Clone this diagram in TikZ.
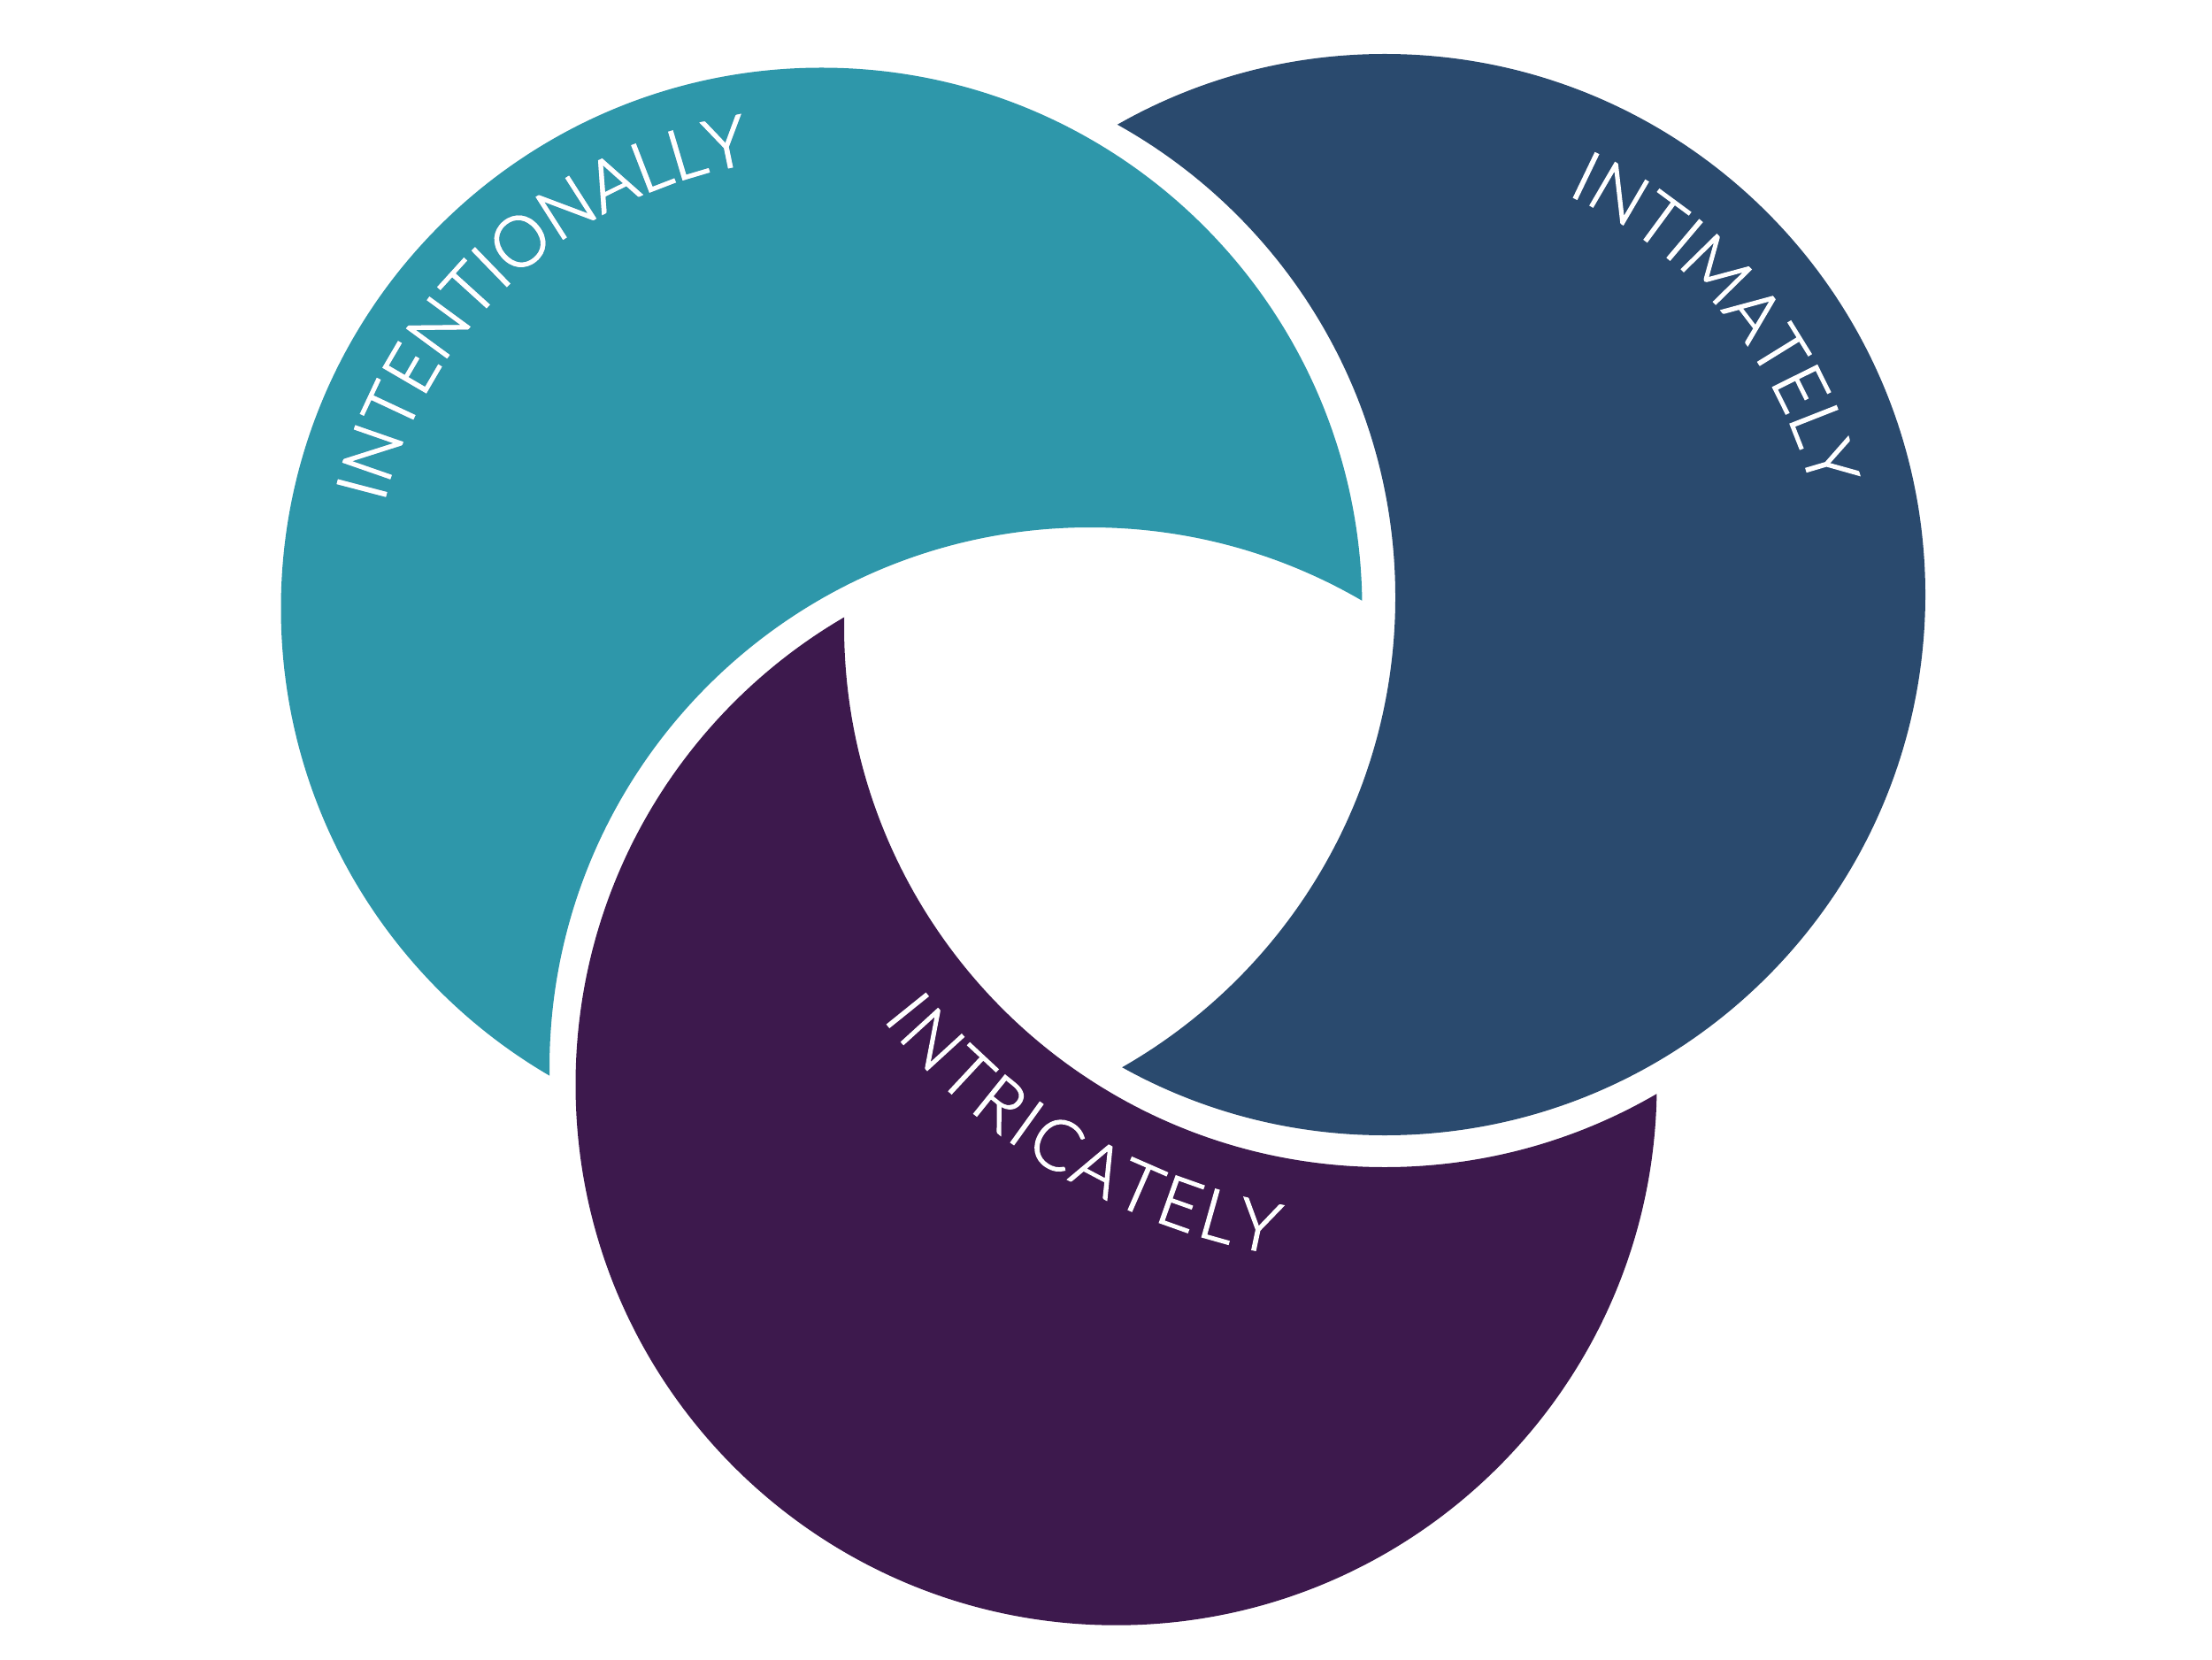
\documentclass[tikz,border=0pt]{standalone}
\usepackage{fontspec}
\newfontfamily\ringfont{Lato Light}[FakeBold=2]
\usepackage{tikz}
\usetikzlibrary{
	calc,
	decorations.text
}
\definecolor{RingTeal}{RGB}{46,151,170}
\definecolor{RingNavy}{RGB}{42,74,110}
\definecolor{RingPlum}{RGB}{61,25,77}
\definecolor{ShadeDark}{RGB}{125,140,182}
\definecolor{ShadeLight}{RGB}{182,188,222}

\begin{document}
\begin{tikzpicture}[
				ringlabel/.style={
					decorate,
					decoration={
						text along path,
						text align=fit to path,
						text={|\ringfont\fontsize{22.5}{27}\selectfont|#1}
					}
				}
				]
				
				\useasboundingbox (0,0) rectangle (25,18.75);
				
				\coordinate (T) at (9.285,11.875);
				\coordinate (Tcut) at (12.32,6.68);
				\coordinate (B) at (15.65,12.03);
				\coordinate (Bcut) at (9.66,12.00);
				\coordinate (P) at (12.615,6.493);
				\coordinate (Pcut) at (15.65,11.67);
				
				\foreach \ring/\cut/\col in {T/Tcut/RingTeal, B/Bcut/RingNavy, P/Pcut/RingPlum}{
					\begin{scope}[even odd rule]
						\clip (-1,-1) rectangle (26,20) (\cut) circle (6.11);
						\fill[\col] (\ring) circle (6.11);
					\end{scope}
				}
				
				\foreach \dx/\shade in {0.07/ShadeDark, 0.04/ShadeLight, 0/white}{
					\path[
					ringlabel=INTENTIONALLY,
					decoration={text color=\shade},
					xshift=\dx cm,
					yshift=-0.3*\dx cm
					] ($(T)+(166.5:5.09)$) arc[start angle=166.5, end angle=99.5, radius=5.09];
				}
				
				\path[
				ringlabel=INTIMATELY,
				decoration={text color=white}
				] ($(B)+(65.5:4.97)$) arc[start angle=65.5, end angle=14.5, radius=4.97];
				
				\path[
				ringlabel=INTRICATELY,
				decoration={text color=white}
				] ($(Pcut)+(218:7.20)$) arc[start angle=218, end angle=260, radius=7.20];
				
			\end{tikzpicture}
\end{document}
